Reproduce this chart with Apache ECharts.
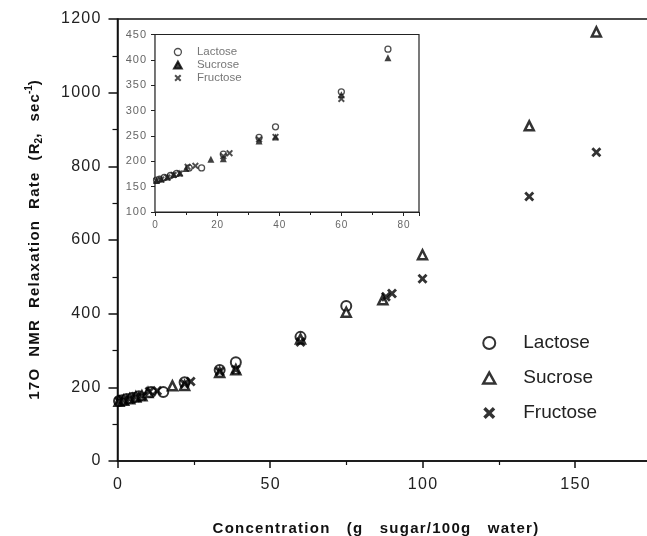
<!DOCTYPE html>
<html><head><meta charset="utf-8">
<script src="https://cdn.jsdelivr.net/npm/echarts@6/dist/echarts.min.js"></script>
<style>html,body{margin:0;padding:0;background:#fff}#c{width:647px;height:536px}</style>
</head><body><div id="c"></div>
<script>
// [concentration (g sugar/100g water), R2 (sec^-1)]
const lactose = [[0.5,163],[1.5,165],[3,168],[5,172],[7,176],[11,187],[15,187],[22,214],[33.5,247],[38.8,268],[60,337],[75,421]];
const sucrose = [[0.5,162],[2,165],[4,169],[6,174],[8,177],[10,186],[18,204],[22,205],[33.5,240],[38.8,248],[60,331],[75,404],[87,438],[100,560],[135,910],[157,1165]];
const fructose = [[0.5,162],[2,164],[4,168],[6,173],[8,176],[10.5,189],[13,191],[22,210],[24,216],[33.5,243],[38.8,248],[60,323],[88,446],[90,455],[100,495],[135,718],[157,838]];
const seriesNames = ['Lactose','Sucrose','Fructose'];
const xTitle = 'Concentration   (g   sugar/100g   water)';
const yTitleParts = ['17O  NMR  Relaxation  Rate  (R', '2', ',  sec', '-1', ')'];
const insetMaxX = 85;

const HS = '\u200A';
const track = s => s.split('').join(HS);
const XPATH = 'path://M0,2L2,0L5,3L8,0L10,2L7,5L10,8L8,10L5,7L2,10L0,8L3,5Z';
const TRI = 'path://M5,0L10,9L0,9Z';
const FONT = '"Liberation Sans", Arial, Helvetica, sans-serif';
const openCircle = {color:'#fff', borderColor:'#000', borderWidth:2};
const openTri = {color:'#fff', borderColor:'#000', borderWidth:2.5};
const solid = {color:'#000'};

const inset = d => d.filter(p => p[0] <= insetMaxX);
const yName = '{a|' + track(yTitleParts[0]) + '}{sub|' + yTitleParts[1] + '}{a|' + track(yTitleParts[2]) + '}{sup|' + yTitleParts[3] + '}{a|' + yTitleParts[4] + '}';

const chart = echarts.init(document.getElementById('c'), null, {renderer:'canvas'});
chart.setOption({
  animation:false,
  backgroundColor:'#fff',
  textStyle:{fontFamily:FONT},
  grid:[
    {left:117.5, top:19, width:533.75, height:442, show:true, borderColor:'#111', borderWidth:1.5, backgroundColor:'transparent', containLabel:false, outerBoundsMode:'none'},
    {left:155, top:34.5, width:264, height:177.5, show:true, borderColor:'#222', borderWidth:1.2, backgroundColor:'#fff', z:5, containLabel:false, outerBoundsMode:'none'}
  ],
  xAxis:[
    {gridIndex:0, type:'value', min:0, max:175, interval:50,
     axisLine:{show:true, onZero:false, lineStyle:{color:'#111', width:1.5}},
     axisTick:{show:true, length:7, lineStyle:{color:'#111', width:1.5}},
     minorTick:{show:true, splitNumber:2, length:4, lineStyle:{color:'#111', width:1.2}},
     splitLine:{show:false},
     axisLabel:{fontSize:16, color:'#222', margin:16, showMaxLabel:false, fontFamily:FONT,
       formatter:v => track(String(v))},
     name:track(xTitle), nameLocation:'middle', nameGap:60,
     nameTextStyle:{fontSize:15, fontWeight:'bold', color:'#111', fontFamily:FONT, padding:[0,18,0,0]}},
    {gridIndex:1, type:'value', min:0, max:insetMaxX, interval:20,
     axisLine:{show:true, onZero:false, lineStyle:{color:'#222', width:1.2}},
     axisTick:{show:true, length:4, lineStyle:{color:'#222'}},
     minorTick:{show:true, splitNumber:2, length:3, lineStyle:{color:'#222'}},
     splitLine:{show:false},
     axisLabel:{fontSize:10, color:'#666', margin:8, showMaxLabel:false, fontFamily:FONT,
       formatter:v => track(String(v))}}
  ],
  yAxis:[
    {gridIndex:0, type:'value', min:0, max:1200, interval:200,
     axisLine:{show:true, onZero:false, lineStyle:{color:'#111', width:1.5}},
     axisTick:{show:true, length:9, lineStyle:{color:'#111', width:1.5}},
     minorTick:{show:true, splitNumber:2, length:5, lineStyle:{color:'#111', width:1.2}},
     splitLine:{show:false},
     axisLabel:{fontSize:16, color:'#222', margin:17, fontFamily:FONT,
       formatter:v => track(String(v))},
     name:yName,
     nameLocation:'middle', nameGap:73,
     nameTextStyle:{fontSize:15, fontWeight:'bold', color:'#111', fontFamily:FONT,
       rich:{
         a:{fontSize:15, fontWeight:'bold', color:'#111', lineHeight:20, verticalAlign:'middle', fontFamily:FONT},
         sub:{fontSize:10, fontWeight:'bold', color:'#111', lineHeight:20, verticalAlign:'bottom', fontFamily:FONT},
         sup:{fontSize:10, fontWeight:'bold', color:'#111', lineHeight:20, verticalAlign:'top', fontFamily:FONT}
       }}},
    {gridIndex:1, type:'value', min:100, max:450, interval:50,
     axisLine:{show:true, onZero:false, lineStyle:{color:'#222', width:1.2}},
     axisTick:{show:true, length:4, lineStyle:{color:'#222'}},
     splitLine:{show:false},
     axisLabel:{fontSize:11, color:'#666', margin:9, fontFamily:FONT,
       formatter:v => track(String(v))}}
  ],
  legend:[
    {orient:'vertical', left:482, top:333, padding:0, itemWidth:12, itemHeight:12, itemGap:15,
     selectedMode:false,
     formatter:n => '{p|}' + n,
     textStyle:{fontSize:19, color:'#222', lineHeight:20, fontFamily:FONT,
       rich:{p:{width:23}}},
     data:[
       {name:'Lactose', icon:'circle', itemStyle:openCircle},
       {name:'Sucrose', icon:TRI, itemStyle:openTri},
       {name:'Fructose', icon:XPATH, itemStyle:solid}
     ]},
    {orient:'vertical', left:173, top:45.5, padding:0, itemWidth:8, itemHeight:7, itemGap:0,
     selectedMode:false, z:10,
     formatter:n => '{p|}' + n,
     textStyle:{fontSize:11.5, color:'#777', lineHeight:13, fontFamily:FONT,
       rich:{p:{width:10}}},
     data:[
       {name:'Lactose', icon:'circle', itemStyle:{color:'#fff', borderColor:'#222', borderWidth:1.3}},
       {name:'Sucrose', icon:TRI, itemStyle:{color:'#111'}},
       {name:'Fructose', icon:XPATH, itemStyle:{color:'#222'}}
     ]}
  ],
  series:[
    {name:seriesNames[0], type:'scatter', xAxisIndex:0, yAxisIndex:0, data:lactose, symbol:'circle', symbolSize:10, itemStyle:openCircle},
    {name:seriesNames[1], type:'scatter', xAxisIndex:0, yAxisIndex:0, data:sucrose, symbol:TRI, symbolSize:9, itemStyle:openTri},
    {name:seriesNames[2], type:'scatter', xAxisIndex:0, yAxisIndex:0, data:fructose, symbol:XPATH, symbolSize:10, itemStyle:solid},
    {name:seriesNames[0], type:'scatter', xAxisIndex:1, yAxisIndex:1, data:inset(lactose), symbol:'circle', symbolSize:6, itemStyle:{color:'#fff', borderColor:'#222', borderWidth:1.3}, z:6},
    {name:seriesNames[1], type:'scatter', xAxisIndex:1, yAxisIndex:1, data:inset(sucrose), symbol:TRI, symbolSize:7, itemStyle:{color:'#111'}, z:6},
    {name:seriesNames[2], type:'scatter', xAxisIndex:1, yAxisIndex:1, data:inset(fructose), symbol:XPATH, symbolSize:7, itemStyle:{color:'#222'}, z:6}
  ]
});
</script></body></html>
